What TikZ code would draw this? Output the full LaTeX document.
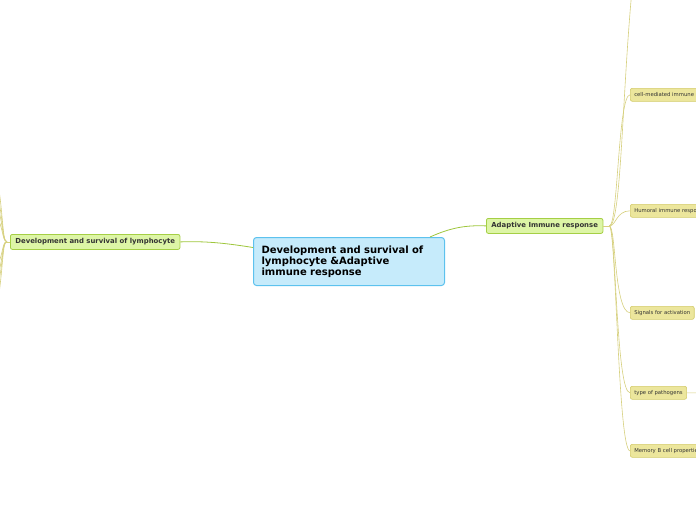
\documentclass[tikz,border=0pt]{standalone}
\usepackage{fontspec}
\setmainfont{DejaVu Sans}
\definecolor{cfill}{HTML}{C6EBFB}
\definecolor{cdraw}{HTML}{5DC2EE}
\definecolor{gfill}{HTML}{DDF5A6}
\definecolor{gdraw}{HTML}{A5CF45}
\definecolor{gline}{HTML}{9EC63C}
\definecolor{yfill}{HTML}{ECE69C}
\definecolor{ydraw}{HTML}{D3CB6A}
\definecolor{yline}{HTML}{D6D07E}
\definecolor{txt}{HTML}{333333}
\tikzset{
  centralbox/.style={draw=cdraw, fill=cfill, line width=1pt, rounded corners=3pt, anchor=north west, minimum width=191pt, minimum height=48pt, text width=175pt, align=left, inner xsep=8pt, font=\bfseries\fontsize{10}{11.2}\selectfont, text=black},
  mainbox/.style={draw=gdraw, fill=gfill, line width=0.8pt, rounded corners=2pt, anchor=north west, minimum height=15pt, inner xsep=5pt, inner ysep=0pt, font=\bfseries\fontsize{6.9}{7.5}\selectfont, text=txt},
  subbox/.style={draw=ydraw, fill=yfill, line width=0.6pt, rounded corners=2pt, anchor=north west, minimum height=13pt, inner xsep=4pt, inner ysep=0pt, font=\fontsize{5.3}{6}\selectfont, text=txt},
  gconn/.style={draw=gline, line width=0.8pt},
  yconn/.style={draw=yline, line width=0.6pt},
}
\begin{document}
\begin{tikzpicture}[x=1pt,y=-1pt]
\useasboundingbox (0,0) rectangle (696,520);
\clip (0,0) rectangle (696,520);
% off-canvas coordinates
\coordinate (topchild) at (634,-30);
\coordinate (tpright) at (730,393);
\coordinate (l1) at (-10,140);
\coordinate (l2) at (-10,165);
\coordinate (l3) at (-10,185);
\coordinate (l4) at (-10,205);
\coordinate (l5) at (-10,280);
\coordinate (l6) at (-10,300);
\coordinate (l7) at (-10,320);
\coordinate (l8) at (-10,345);
% nodes
\node[centralbox] (c) at (253,237) {Development and survival of\\lymphocyte \&Adaptive\\immune response};
\node[mainbox] (dev) at (10,234) {Development and survival of lymphocyte};
\node[mainbox] (ad) at (486,218) {Adaptive Immune response};
\node[subbox] (cm) at (630,88) {cell-mediated immune response};
\node[subbox] (hu) at (630,204) {Humoral immune response};
\node[subbox] (sa) at (630,306) {Signals for activation};
\node[subbox] (tp) at (630,386) {type of pathogens};
\node[subbox] (mb) at (630,444) {Memory B cell properties};
% central connectors
\draw[gconn] (c.west) ++(0,-14) .. controls (225,243) and (205,241) .. (dev.east);
\draw[gconn] (430,237) .. controls (450,228) and (465,225) .. (ad.west);
% right branches
\draw[yconn] (ad.east) -- ++(6,0) coordinate (hub);
\draw[yconn] (hub) .. controls (622,226) and (622,80) .. (topchild);
\draw[yconn] (hub) .. controls (618,226) and (618,95) .. (cm.west);
\draw[yconn] (hub) .. controls (616,226) and (616,211) .. (hu.west);
\draw[yconn] (hub) .. controls (616,226) and (614,312) .. (sa.west);
\draw[yconn] (hub) .. controls (616,226) and (616,393) .. (tp.west);
\draw[yconn] (hub) .. controls (616,226) and (618,451) .. (mb.west);
\draw[yconn] (tp.east) -- (tpright);
% left branches
\draw[yconn] (dev.west) -- ++(-3,0) coordinate (lhub);
\foreach \e/\m in {l1/205,l2/212,l3/218,l4/224}{
  \draw[yconn] (lhub) .. controls (1,241) and (5,\m) .. (\e);
}
\foreach \e/\m in {l5/258,l6/264,l7/270,l8/278}{
  \draw[yconn] (lhub) .. controls (1,241) and (5,\m) .. (\e);
}
\end{tikzpicture}
\end{document}
